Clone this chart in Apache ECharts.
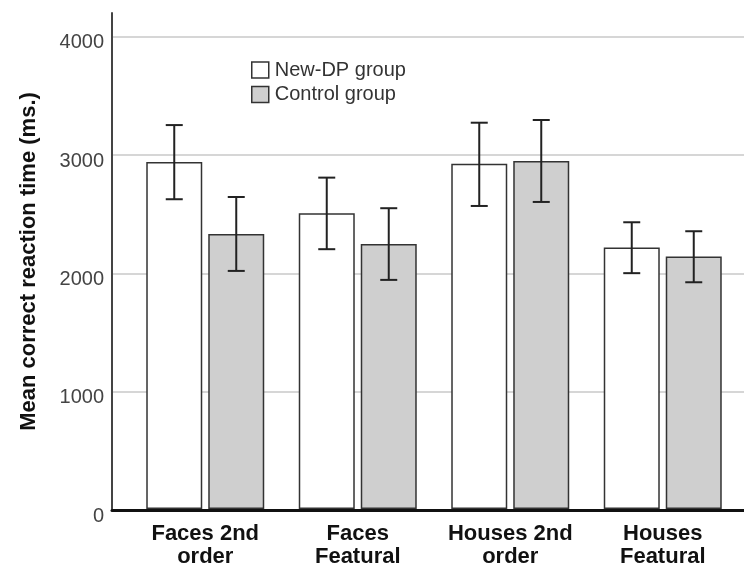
<!DOCTYPE html>
<html>
<head>
<meta charset="utf-8">
<script src="https://cdn.jsdelivr.net/npm/echarts@6/dist/echarts.min.js"></script>
<style>html,body{margin:0;padding:0;background:#fff}#c{width:744px;height:568px}</style>
</head>
<body>
<div id="c"></div>
<script>
// ---- data ----
const categories = ['Faces 2nd\norder', 'Faces\nFeatural', 'Houses 2nd\norder', 'Houses\nFeatural'];
const seriesNames = ['New-DP group', 'Control group'];
const newDPMean = [2938, 2504, 2924, 2214];
const newDPLow  = [2623, 2200, 2566, 1997];
const newDPHigh = [3251, 2806, 3271, 2428];
const controlMean = [2329, 2245, 2947, 2138];
const controlLow  = [2016, 1940, 2600, 1920];
const controlHigh = [2642, 2547, 3294, 2352];
const yTicks = [0, 1000, 2000, 3000, 4000];

const FONT = 'Liberation Sans, Arial, sans-serif';
const BAR_W = 56, GAP_PX = 6, CAP = 17;

function errSeries(name, low, high, side) {
  return {
    type: 'custom', name: name + ' err', xAxisIndex: 1, yAxisIndex: 1, z: 5,
    silent: true,
    data: low.map((l, i) => [i, l, high[i]]),
    encode: { x: 0, y: [1, 2] },
    renderItem: function (params, api) {
      const off = side * (BAR_W + GAP_PX) / 2;
      const lo = api.coord([api.value(0), api.value(1)]);
      const hi = api.coord([api.value(0), api.value(2)]);
      const x = lo[0] + off;
      const st = { stroke: '#222', lineWidth: 2 };
      return { type: 'group', children: [
        { type: 'line', shape: { x1: x, y1: lo[1], x2: x, y2: hi[1] }, style: st },
        { type: 'line', shape: { x1: x - CAP / 2, y1: lo[1], x2: x + CAP / 2, y2: lo[1] }, style: st },
        { type: 'line', shape: { x1: x - CAP / 2, y1: hi[1], x2: x + CAP / 2, y2: hi[1] }, style: st }
      ]};
    }
  };
}

const chart = echarts.init(document.getElementById('c'), null, { renderer: 'canvas' });
chart.setOption({
  animation: false,
  backgroundColor: '#fff',
  textStyle: { fontFamily: FONT },
  grid: [
    { left: 112, right: 0, top: 13, bottom: 58 },
    { left: 129, right: 5, top: 13, bottom: 58 }
  ],
  legend: {
    orient: 'vertical', left: 246, top: 55, itemWidth: 17, itemHeight: 16, itemGap: 4.5,
    icon: 'rect',
    data: seriesNames,
    itemStyle: { borderColor: '#333', borderWidth: 1.5 },
    textStyle: { fontSize: 20, color: '#333', fontFamily: FONT, lineHeight: 20, padding: [0, 0, 0, 1] }
  },
  xAxis: [
    { type: 'category', gridIndex: 0, data: categories,
      axisLine: { show: true, lineStyle: { color: '#111', width: 3 } },
      axisTick: { show: false }, axisLabel: { show: false }, splitLine: { show: false } },
    { type: 'category', gridIndex: 1, data: categories,
      axisLine: { show: false }, axisTick: { show: false },
      axisLabel: { show: true, interval: 0, margin: 13, fontSize: 22, fontWeight: 'bold', color: '#111', lineHeight: 23, fontFamily: FONT } }
  ],
  yAxis: [
    { type: 'value', gridIndex: 0, min: 0, max: 4200, interval: 1000,
      name: 'Mean correct reaction time (ms.)', nameLocation: 'middle', nameGap: 72,
      nameTextStyle: { fontSize: 22, fontWeight: 'bold', color: '#111', fontFamily: FONT },
      axisLine: { show: true, lineStyle: { color: '#444', width: 2 } },
      axisTick: { show: false },
      axisLabel: { fontSize: 20, color: '#444', margin: 8, showMaxLabel: false, verticalAlign: 'top', lineHeight: 12, fontFamily: FONT,
        formatter: v => (yTicks.indexOf(v) >= 0 ? String(v) : '') },
      splitLine: { show: true, showMaxLine: false, lineStyle: { color: '#c8c8c8', width: 1.5 } } },
    { type: 'value', gridIndex: 1, min: 0, max: 4200, interval: 1000, show: false, splitLine: { show: false } }
  ],
  series: [
    { type: 'bar', name: seriesNames[0], xAxisIndex: 1, yAxisIndex: 1, data: newDPMean,
      barWidth: BAR_W, barGap: (GAP_PX / BAR_W * 100).toFixed(1) + '%',
      itemStyle: { color: '#ffffff', borderColor: '#333', borderWidth: 1.5 } },
    { type: 'bar', name: seriesNames[1], xAxisIndex: 1, yAxisIndex: 1, data: controlMean,
      barWidth: BAR_W, barGap: (GAP_PX / BAR_W * 100).toFixed(1) + '%',
      itemStyle: { color: '#cfcfcf', borderColor: '#333', borderWidth: 1.5 } },
    errSeries(seriesNames[0], newDPLow, newDPHigh, -1),
    errSeries(seriesNames[1], controlLow, controlHigh, 1)
  ]
});
</script>
</body>
</html>
